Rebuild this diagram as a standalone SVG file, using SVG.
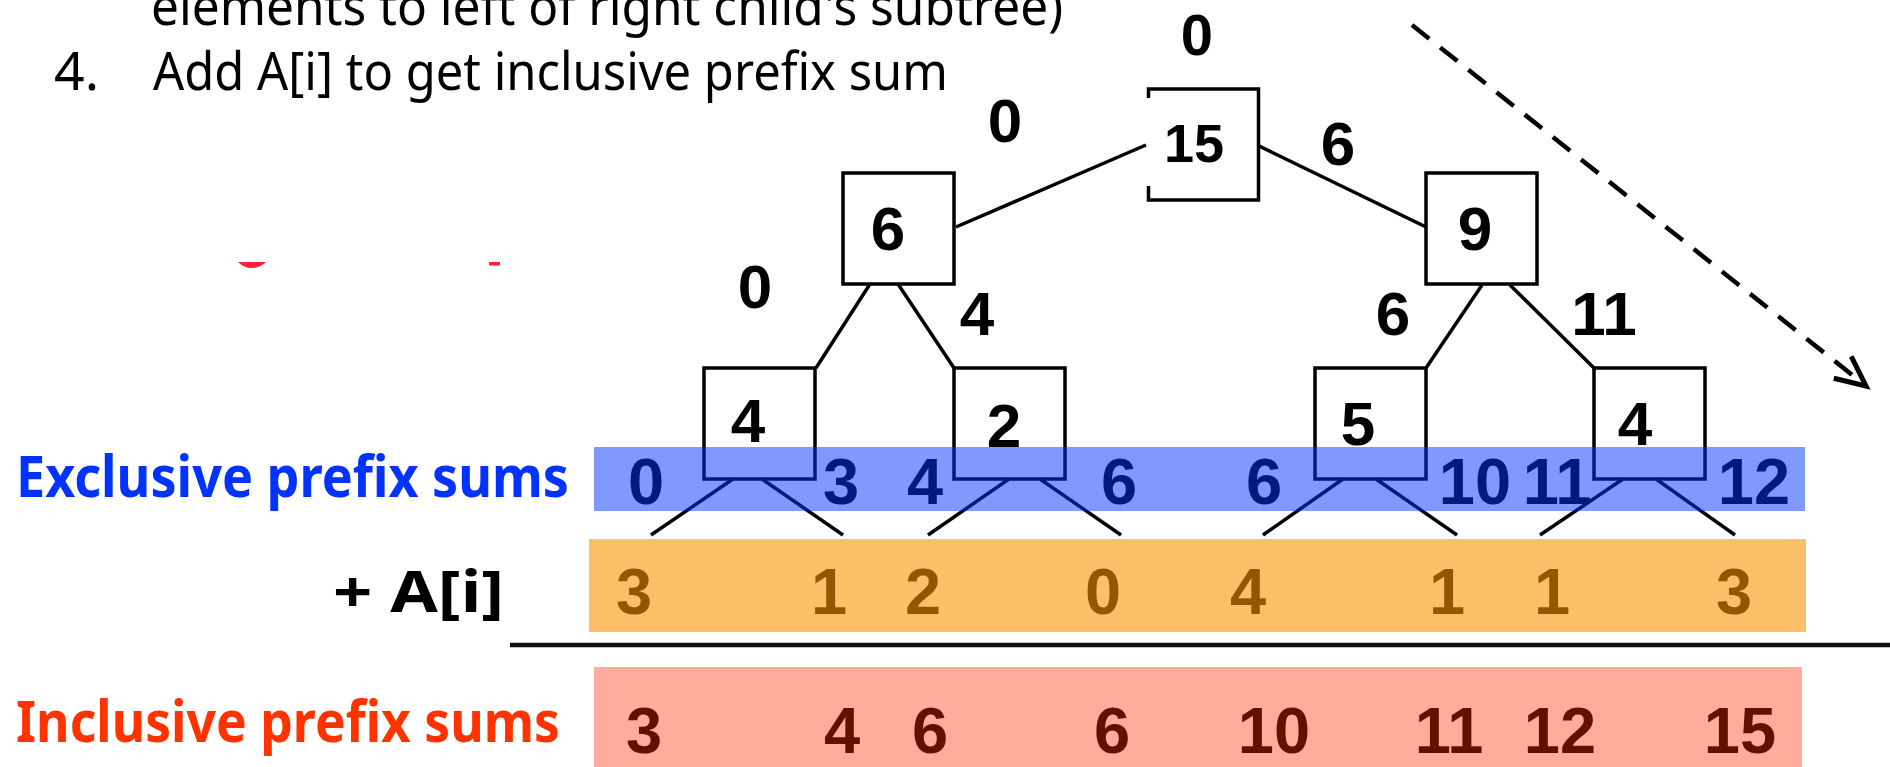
<svg xmlns="http://www.w3.org/2000/svg" width="1890" height="767" viewBox="0 0 1890 767">
<defs>
<style>
.box{fill:none;stroke:#000;stroke-width:3.5}
.edge{fill:none;stroke:#000;stroke-width:3.5}
.num{font-family:"Liberation Sans",Arial,sans-serif;font-weight:bold;fill:#000;text-anchor:middle}
.val{font-size:62px}
.lbl{font-size:62px}
.row{font-size:65px}
.hand{font-family:"Noto Sans","DejaVu Sans",sans-serif;fill:#000}
.side{font-family:"Noto Sans","DejaVu Sans",sans-serif;font-weight:bold;font-size:57px}
</style>
<marker id="open-arrow" markerUnits="userSpaceOnUse" viewBox="-36 -20 42 40" refX="0" refY="0" markerWidth="42" markerHeight="40" orient="auto" overflow="visible">
<path d="M-30,-14 L0,0 L-30,14" fill="none" stroke="#000" stroke-width="5"/>
</marker>
</defs>
<rect width="1890" height="767" fill="#fff"/>

<!-- step text -->
<g id="steps" class="hand">
<text x="151" y="25" font-size="52" textLength="912" lengthAdjust="spacingAndGlyphs">elements to left of right child's subtree)</text>
<text x="54" y="90" font-size="52" textLength="45" lengthAdjust="spacingAndGlyphs">4.</text>
<text x="153" y="90" font-size="52" textLength="795" lengthAdjust="spacingAndGlyphs">Add A[i] to get inclusive prefix sum</text>
</g>

<!-- leftover red strokes -->
<g id="red-marks" fill="#ff2038">
<path d="M238,262 H266 Q260,268 252,268 Q244,268 238,262 Z"/>
<rect x="489" y="262" width="11" height="3.5"/>
</g>

<!-- tree edges -->
<g id="connectors" class="edge">
<line x1="1146" y1="145" x2="956" y2="227"/>
<line x1="1259" y1="146" x2="1426" y2="227"/>
<line x1="870" y1="284" x2="816" y2="368"/>
<line x1="898" y1="284" x2="954" y2="368"/>
<line x1="1482" y1="285" x2="1426" y2="368"/>
<line x1="1510" y1="285" x2="1594" y2="368"/>
<line x1="733" y1="479" x2="651" y2="535"/>
<line x1="762" y1="479" x2="843" y2="535"/>
<line x1="1009" y1="479" x2="928" y2="535"/>
<line x1="1040" y1="479" x2="1121" y2="535"/>
<line x1="1343" y1="479" x2="1263" y2="535"/>
<line x1="1376" y1="479" x2="1457" y2="535"/>
<line x1="1623" y1="479" x2="1540" y2="535"/>
<line x1="1656" y1="479" x2="1735" y2="535"/>
<line x1="1412" y1="25" x2="1866" y2="386" stroke-width="4.5" stroke-dasharray="22 14" marker-end="url(#open-arrow)"/>
</g>

<!-- tree nodes -->
<g id="node-root">
<path class="box" d="M1148.5,98 V89 H1258.5 V200 H1148.5 V186"/>
<text class="num" x="1194" y="162" font-size="54">15</text>
</g>
<g id="node-left">
<rect class="box" x="843" y="173" width="111" height="111"/>
<text class="num val" x="888" y="250">6</text>
</g>
<g id="node-right">
<rect class="box" x="1426" y="173" width="111" height="111"/>
<text class="num val" x="1475" y="250">9</text>
</g>
<g id="node-ll">
<rect class="box" x="704" y="368" width="111" height="111"/>
<text class="num val" x="748" y="442">4</text>
</g>
<g id="node-lr">
<rect class="box" x="954" y="368" width="111" height="111"/>
<text class="num val" x="1004" y="447">2</text>
</g>
<g id="node-rl">
<rect class="box" x="1315" y="368" width="111" height="111"/>
<text class="num val" x="1358" y="445">5</text>
</g>
<g id="node-rr">
<rect class="box" x="1594" y="368" width="111" height="111"/>
<text class="num val" x="1635" y="445">4</text>
</g>

<!-- prefix values passed down -->
<g id="edge-labels" class="num lbl">
<text x="1197" y="55" font-size="58">0</text>
<text x="1005" y="142">0</text>
<text x="1338" y="165">6</text>
<text x="755" y="308">0</text>
<text x="977" y="335">4</text>
<text x="1393" y="335">6</text>
<text x="1604" y="335">11</text>
</g>

<!-- exclusive sums row -->
<g id="row-exclusive">
<g class="num row">
<text x="646" y="504">0</text>
<text x="841" y="504">3</text>
<text x="925" y="504">4</text>
<text x="1119" y="504">6</text>
<text x="1264" y="504">6</text>
<text x="1475" y="504">10</text>
<text x="1557" y="504">11</text>
<text x="1754" y="504">12</text>
</g>
<rect x="594" y="447" width="1211" height="64" fill="#0034ff" opacity="0.5"/>
<text class="side" x="16" y="497" fill="#0033ff" textLength="553" lengthAdjust="spacingAndGlyphs">Exclusive prefix sums</text>
</g>

<!-- input values row -->
<g id="row-input">
<g class="num row">
<text x="634" y="614">3</text>
<text x="829" y="614">1</text>
<text x="923" y="614">2</text>
<text x="1103" y="614">0</text>
<text x="1248" y="614">4</text>
<text x="1447" y="614">1</text>
<text x="1552" y="614">1</text>
<text x="1734" y="614">3</text>
</g>
<rect x="589" y="539" width="1217" height="93" fill="#fe9300" opacity="0.59"/>
<text class="side" x="333" y="612" fill="#000" textLength="171" lengthAdjust="spacingAndGlyphs">+ A[i]</text>
</g>

<line id="sum-rule" x1="510" y1="645" x2="1890" y2="645" stroke="#111" stroke-width="4.5"/>

<!-- inclusive sums row -->
<g id="row-inclusive">
<g class="num row">
<text x="644" y="753">3</text>
<text x="842" y="753">4</text>
<text x="930" y="753">6</text>
<text x="1112" y="753">6</text>
<text x="1274" y="753">10</text>
<text x="1449" y="753">11</text>
<text x="1560" y="753">12</text>
<text x="1740" y="753">15</text>
</g>
<rect x="594" y="667" width="1208" height="100" fill="#ff2800" opacity="0.39"/>
<text class="side" x="16" y="742" fill="#ff3300" textLength="544" lengthAdjust="spacingAndGlyphs">Inclusive prefix sums</text>
</g>
</svg>
